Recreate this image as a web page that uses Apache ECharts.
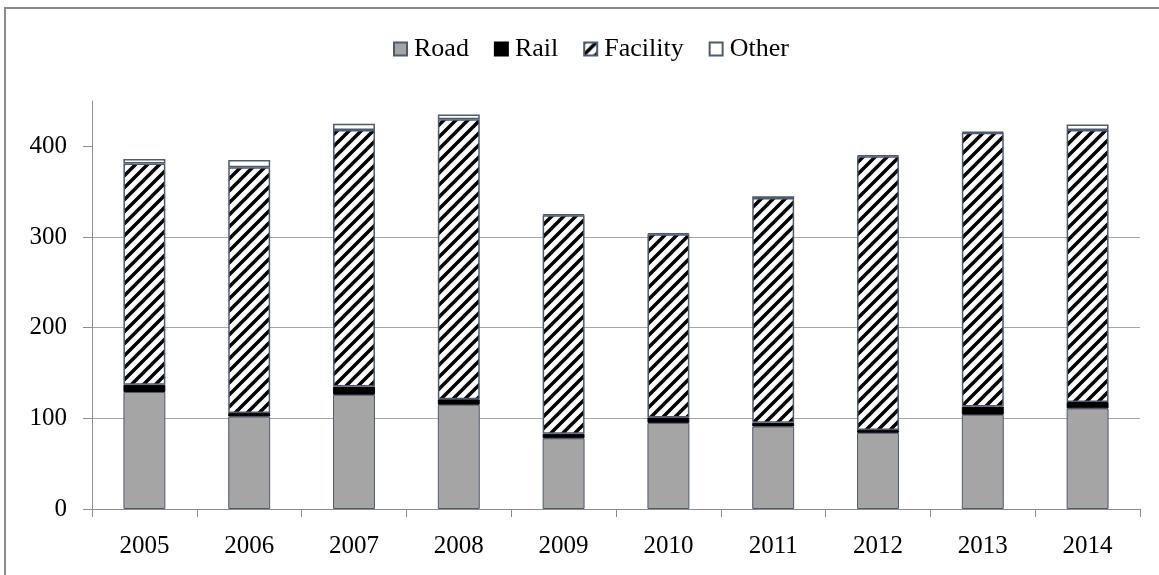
<!DOCTYPE html>
<html>
<head>
<meta charset="utf-8">
<script src="https://cdn.jsdelivr.net/npm/echarts@6/dist/echarts.min.js"></script>
<style>
  html, body { margin: 0; padding: 0; background: #fff; }
  #chart { width: 1159px; height: 575px; }
</style>
</head>
<body>
<div id="chart"></div>
<script>
// values
var years = ['2005', '2006', '2007', '2008', '2009', '2010', '2011', '2012', '2013', '2014'];
var road = [129, 102, 126, 115, 78, 95, 91, 84, 104, 111];
var rail = [8, 4, 9, 6, 5, 6, 4, 3, 9, 7];
var facility = [244, 271, 283, 309, 241, 202, 248, 302, 302, 300];
var other = [5, 8, 7, 5, 1, 1, 2, 1, 1, 6];
var yTicks = [0, 100, 200, 300, 400];

var edge = '#4E5A6E';

// diagonal hatch for Facility
function hatch() {
  var c = document.createElement('canvas');
  c.width = 12; c.height = 12;
  var g = c.getContext('2d');
  g.fillStyle = '#fff';
  g.fillRect(0, 0, 12, 12);
  g.strokeStyle = '#000';
  g.lineWidth = 3.5;
  g.beginPath();
  g.moveTo(-2, 14); g.lineTo(14, -2);
  g.moveTo(-8, 8); g.lineTo(8, -8);
  g.moveTo(4, 20); g.lineTo(20, 4);
  g.stroke();
  return c;
}

var chart = echarts.init(document.getElementById('chart'));

function bar(name, data, style) {
  return {
    name: name,
    type: 'bar',
    stack: 'total',
    barCategoryGap: '60%',
    data: data,
    itemStyle: style,
    emphasis: { disabled: true }
  };
}

chart.setOption({
  animation: false,
  textStyle: { fontFamily: 'Liberation Serif' },
  graphic: [{
    type: 'rect',
    shape: { x: 5, y: 8, width: 1200, height: 620 },
    style: { fill: 'none', stroke: '#8a8a8a', lineWidth: 2 },
    silent: true
  }],
  legend: {
    left: 388,
    top: 31,
    itemWidth: 13,
    itemHeight: 13,
    itemGap: 25,
    icon: 'rect',
    textStyle: { fontFamily: 'Liberation Serif', fontSize: 26, color: '#000', padding: [0, 0, 0, 2] },
    data: ['Road', 'Rail', 'Facility', 'Other']
  },
  grid: { left: 92, right: 19, top: 101, bottom: 66 },
  xAxis: {
    type: 'category',
    data: years,
    axisLine: { lineStyle: { color: '#8c8c8c', width: 1 } },
    axisTick: { show: true, length: 8, lineStyle: { color: '#8c8c8c' } },
    axisLabel: { color: '#000', fontSize: 25, margin: 25, fontFamily: 'Liberation Serif' }
  },
  yAxis: {
    type: 'value',
    min: 0,
    max: 450,
    interval: 100,
    axisLine: { show: true, lineStyle: { color: '#8c8c8c', width: 1 } },
    axisTick: { show: true, length: 9, lineStyle: { color: '#8c8c8c' }, customValues: yTicks },
    axisLabel: { color: '#000', fontSize: 25, margin: 25, fontFamily: 'Liberation Serif', customValues: yTicks },
    splitLine: { show: true, showMaxLine: false, lineStyle: { color: '#a6a6a6', width: 1 } }
  },
  series: [
    bar('Road', road, { color: '#A5A5A5', borderColor: edge, borderWidth: 1 }),
    bar('Rail', rail, { color: '#000', borderColor: '#000', borderWidth: 1 }),
    bar('Facility', facility, { color: { image: hatch(), repeat: 'repeat' }, borderColor: edge, borderWidth: 1.5 }),
    bar('Other', other, { color: '#fff', borderColor: edge, borderWidth: 1.5 })
  ]
});
</script>
</body>
</html>
